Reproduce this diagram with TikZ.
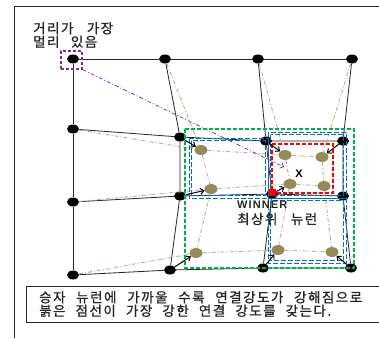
\documentclass[tikz,border=0pt]{standalone}
\usepackage{fontspec}
\usetikzlibrary{shapes.geometric,arrows.meta}
\newfontfamily\kr[LetterSpace=11,FakeBold=1]{Noto Sans CJK KR}
\newfontfamily\lat[LetterSpace=10]{Liberation Sans}
\newcommand{\kspcx}{\spaceskip=6pt plus 20pt\relax}
\definecolor{olivedot}{RGB}{150,138,88}
\definecolor{oliveline}{RGB}{185,178,140}
\definecolor{mygreen}{RGB}{0,176,80}
\definecolor{myblue}{RGB}{0,112,192}
\definecolor{mypurple}{RGB}{112,48,160}
\definecolor{framec}{RGB}{40,40,40}
\tikzset{
  bn/.style={ellipse,fill=black,minimum width=12pt,minimum height=9pt,inner sep=0pt},
  on/.style={ellipse,fill=olivedot,minimum width=13pt,minimum height=10pt,inner sep=0pt},
  grid/.style={line width=0.8pt,black!85},
  oline/.style={line width=0.9pt,oliveline,dash pattern=on 4pt off 2pt on 1pt off 2pt},
  mv/.style={line width=1pt,black,-{Straight Barb[length=3.5pt,width=6pt]}},
  gbox/.style={draw=mygreen,line width=1.3pt,dash pattern=on 4pt off 2pt},
  bbox/.style={draw=myblue,line width=0.9pt,dash pattern=on 5pt off 2pt},
  rbox/.style={draw=red,line width=1.4pt,dash pattern=on 4pt off 2pt},
  krt/.style={font=\kr\fontsize{13.5}{13.5}\selectfont,inner sep=0pt,align=left,text=black!85},
}
\begin{document}
\begin{tikzpicture}[x=1pt,y=-1pt]
\useasboundingbox (0,0) rectangle (379,338);
\fill[white] (0,0) rectangle (379,338);
% frame
\draw[framec,line width=0.8pt] (14,338) -- (14,6) -- (379,6);
% black nodes
\node[bn] (b11) at (73,59) {};
\node[bn] (b12) at (165,59) {};
\node[bn] (b13) at (258,59) {};
\node[bn] (b14) at (352,59) {};
\node[bn] (b21) at (73,129) {};
\node[bn] (b22) at (180,137) {};
\node[bn] (b23) at (266,141) {};
\node[bn] (b24) at (343,141) {};
\node[bn] (b31) at (73,202) {};
\node[bn] (b32) at (180,196) {};
\node[bn] (b33) at (272,194) {};
\node[bn] (b34) at (343,196) {};
\node[bn] (b41) at (73,275) {};
\node[bn] (b42) at (170,270) {};
\node[bn] (b43) at (263,268) {};
\node[bn] (b44) at (351,268) {};
% olive nodes
\node[on] (o11) at (201,150) {};
\node[on] (o12) at (285,155) {};
\node[on] (o13) at (322,157) {};
\node[on] (o21) at (211,189) {};
\node[on] (o22) at (290,184) {};
\node[on] (o23) at (324,186) {};
\node[on] (o31) at (196,253) {};
\node[on] (o32) at (278,250) {};
\node[on] (o33) at (332,252) {};
% black grid
\draw[grid] (b11) -- (b12) -- (b13) -- (b14);
\draw[grid] (b21) -- (b22) -- (b23) -- (b24);
\draw[grid] (b31) -- (b32) -- (b33) -- (b34);
\draw[grid] (b41) -- (b42) -- (b43) -- (b44);
\draw[grid] (b11) -- (b21) -- (b31) -- (b41);
\draw[grid] (b12) -- (b22) -- (b32) -- (b42);
\draw[grid] (b13) -- (b23) -- (b33) -- (b43);
\draw[grid] (b14) -- (b24) -- (b34) -- (b44);
% olive grid
\draw[oline] (b21) -- (o11) -- (o12) -- (o13);
\draw[oline] (b31) -- (o21) -- (o22) -- (o23);
\draw[oline] (b41) -- (o31) -- (o32) -- (o33);
\draw[oline] (b12) -- (o11) -- (o21) -- (o31);
\draw[oline] (b13) -- (o12) -- (o22) -- (o32);
\draw[oline] (b14) -- (o13) -- (o23) -- (o33);
% purple box and line
\node[draw=mypurple,line width=1.2pt,dash pattern=on 3pt off 2pt,minimum width=21pt,minimum height=18pt,inner sep=0pt] (pbox) at (71.5,60) {};
\coordinate (xp) at (284,167);
\draw[mypurple,line width=0.7pt,dash pattern=on 4pt off 2pt on 1pt off 2pt,-{Straight Barb[length=3pt,width=6pt]}] (pbox.south east) -- (xp);
% boxes
\draw[gbox] (185,129) rectangle (354,268);
\draw[bbox] (189,138) rectangle (268,198);
\draw[bbox] (191.5,140.5) rectangle (265.5,195.5);
\draw[bbox] (268,132) rectangle (346,198);
\draw[bbox] (270.5,134.5) rectangle (343.5,195.5);
\draw[bbox] (268,198) rectangle (346,263);
\draw[bbox] (270.5,200.5) rectangle (343.5,260.5);
\draw[rbox] (272,144) rectangle (333,193);
% winner red mark
\fill[red] (269,189) rectangle (276,196);
% movement arrows
\draw[mv] (b22) -- (o11);
\draw[mv] (b23) -- (o12);
\draw[mv] (b24) -- (o13);
\draw[mv] (b32) -- (o21);
\draw[mv] (b33) -- (o22);
\draw[mv] (b42) -- (o31);
\draw[mv] (b43) -- (o32);
\draw[mv] (b44) -- (o33);
% labels
\node[font=\lat\fontsize{11}{12}\selectfont\bfseries,inner sep=0pt] (xl) at (299,174) {X};
\node[anchor=west,inner sep=0pt,font=\lat\fontsize{11}{12}\selectfont\bfseries,text=black!85] (win) at (237,205) {WINNER};
\node[krt,anchor=west] (top) at (237,219) {\kspcx\makebox[80pt][s]{최상위 뉴런}};
\node[krt,anchor=west] (far) at (33,35) {\kspcx\makebox[80pt][s]{거리가 가장}\\\kspcx\makebox[64pt][s]{멀리 있음}};
% bottom text box
\draw[framec,line width=0.8pt] (379,286) -- (26,286) -- (26,322) -- (379,322);
\node[krt,anchor=west] (note) at (39,304) {\kspcx\makebox[323pt][s]{승자 뉴런에 가까울 수록 연결강도가 강해짐으로}\\\kspcx\makebox[292pt][s]{붉은 점선이 가장 강한 연결 강도를 갖는다.}};
\end{tikzpicture}
\end{document}
